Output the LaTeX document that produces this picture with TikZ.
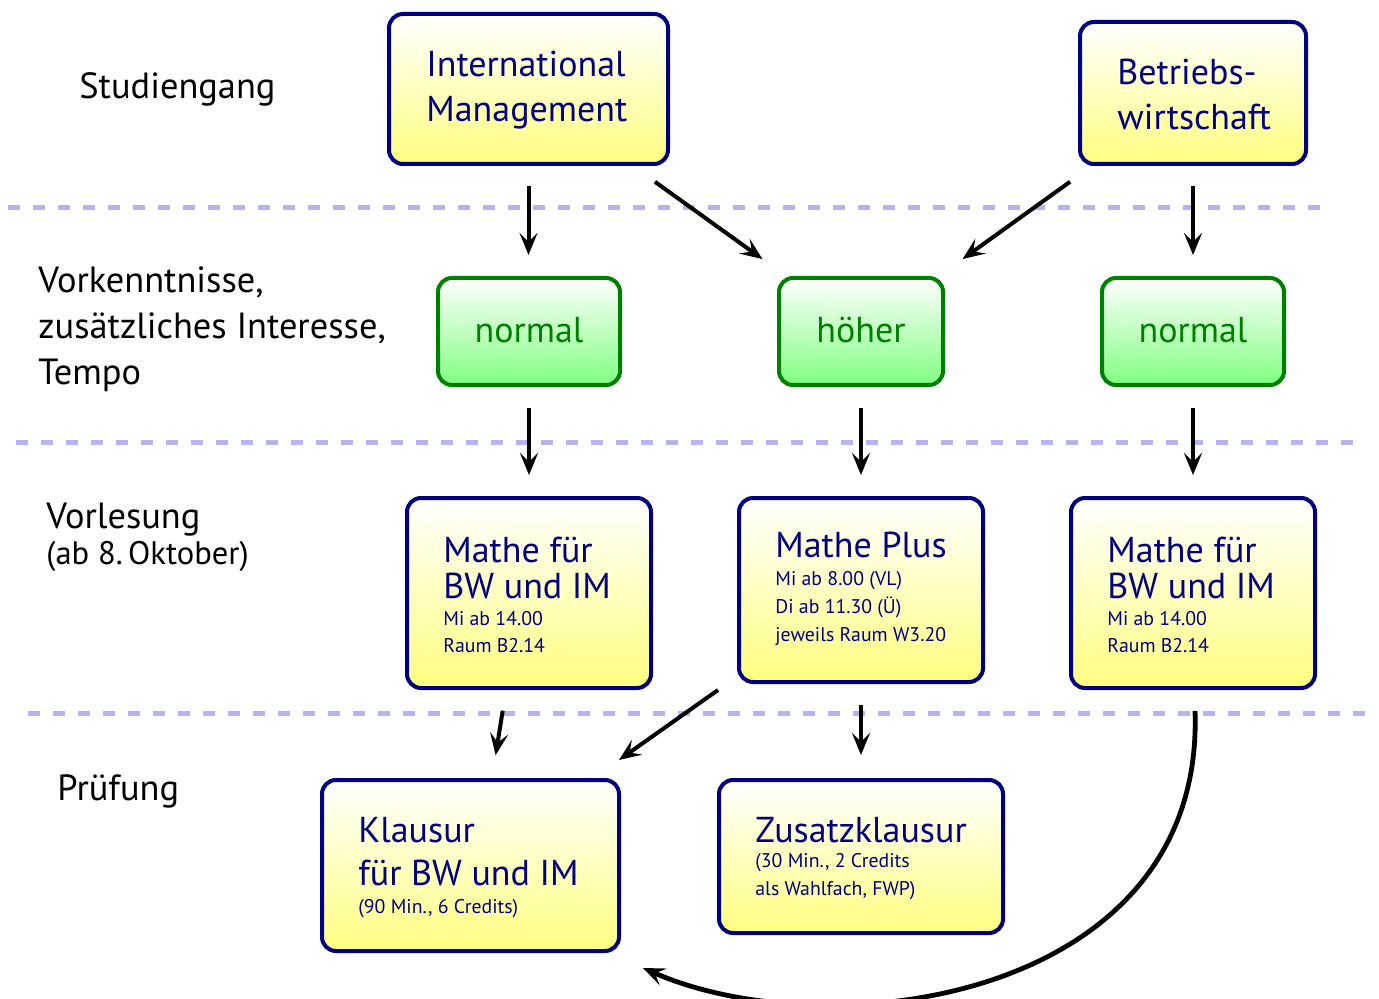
\documentclass[tikz,border=0pt]{standalone}
\usepackage{fontspec}
\setmainfont{PT Sans}
\usetikzlibrary{arrows.meta,calc}
\definecolor{navyb}{RGB}{0,0,128}
\definecolor{yel}{RGB}{255,255,128}
\definecolor{grb}{RGB}{0,128,0}
\definecolor{grf}{RGB}{128,255,128}
\definecolor{dashc}{RGB}{180,180,245}
\newcommand\smf{\fontsize{9.9pt}{11pt}\selectfont}
\tikzset{
  ybox/.style={rectangle, rounded corners=7pt, draw=navyb, line width=2pt,
    top color=white, bottom color=yel, inner sep=0pt},
  gbox/.style={rectangle, rounded corners=7pt, draw=grb, line width=2pt,
    top color=white, bottom color=grf, inner sep=0pt, text=grb,
    font=\fontsize{18pt}{22pt}\selectfont},
  btxt/.style={anchor=base west, inner sep=0pt, text=navyb},
  gtxt/.style={inner sep=0pt, anchor=base, text=grb, font=\fontsize{18pt}{22pt}\selectfont},
  lbl/.style={anchor=base west, inner sep=0pt, text=black, font=\fontsize{18.2pt}{23pt}\selectfont},
  sep/.style={draw=dashc, line width=2.5pt, dash pattern=on 6pt off 6.5pt},
  arr/.style={-{Stealth[length=11pt,width=9pt,inset=4.5pt]}, line width=2pt},
}
\begin{document}
\begin{tikzpicture}[x=0.5pt,y=-0.5pt]
\useasboundingbox (0,0) rectangle (1379,999);
% separators
\coordinate (s1a) at (8,208); \coordinate (s1b) at (1330,208);
\coordinate (s2a) at (16,442); \coordinate (s2b) at (1362,442);
\coordinate (s3a) at (28,713); \coordinate (s3b) at (1372,713);
\draw[sep] (s1a) -- (s1b);
\draw[sep] (s2a) -- (s2b);
\draw[sep] (s3a) -- (s3b);
% left labels
\node[lbl] (l1) at (79,99) {Studiengang};
\node[lbl] (l2) at (38,293) {\vtop{\baselineskip=23pt\hbox{Vorkenntnisse,}\hbox{zusätzliches Interesse,}\hbox{Tempo}}};
\node[lbl] (l3) at (46,528) {\vtop{\baselineskip=18pt\hbox{Vorlesung}\hbox{\fontsize{16.3pt}{18pt}\selectfont(ab 8.\,Oktober)}}};
\node[lbl] (l4) at (57,800) {Prüfung};
% boxes
\node[ybox, minimum width=139.5pt, minimum height=75pt] (im) at (528.5,89) {};
\node[ybox, minimum width=113pt, minimum height=71pt] (bw) at (1193,93) {};
\node[gbox, minimum width=91pt, minimum height=53.5pt] (n1) at (529,331.5) {};
\node[gbox, minimum width=82pt, minimum height=53.5pt] (ho) at (861,331.5) {};
\node[gbox, minimum width=91pt, minimum height=53.5pt] (n2) at (1193,331.5) {};
\node[ybox, minimum width=122pt, minimum height=95pt] (m1) at (529,593) {};
\node[ybox, minimum width=122pt, minimum height=92pt] (mp) at (861,590) {};
\node[ybox, minimum width=122pt, minimum height=95pt] (m2) at (1193,593) {};
\node[ybox, minimum width=148.5pt, minimum height=85.5pt] (kl) at (470.5,865.5) {};
\node[ybox, minimum width=142pt, minimum height=76.5pt] (zk) at (861,856.5) {};
% box texts
\node[btxt, font=\fontsize{18pt}{22pt}\selectfont] (imt) at (426,77) {\vtop{\baselineskip=22.5pt\hbox{International}\hbox{Management}}};
\node[btxt, font=\fontsize{18pt}{22pt}\selectfont] (bwt) at (1117,85) {\vtop{\baselineskip=22.5pt\hbox{Betriebs-}\hbox{wirtschaft}}};
\node[gtxt] (n1t) at (529,343) {normal};
\node[gtxt] (hot) at (861,343) {höher};
\node[gtxt] (n2t) at (1193,343) {normal};
\node[btxt, font=\fontsize{18pt}{18pt}\selectfont] (m1t) at (443,562) {\vtop{\baselineskip=18pt\hbox{Mathe für}\hbox{BW und IM}\baselineskip=13.5pt\hbox{\smf Mi ab 14.00}\hbox{\smf Raum B2.14}}};
\node[btxt, font=\fontsize{18pt}{18pt}\selectfont] (mpt) at (775,557) {\vtop{\baselineskip=15pt\hbox{Mathe Plus}\baselineskip=14pt\hbox{\smf Mi ab 8.00 (VL)}\hbox{\smf Di ab 11.30 (Ü)}\hbox{\smf jeweils Raum W3.20}}};
\node[btxt, font=\fontsize{18pt}{18pt}\selectfont] (m2t) at (1107,562) {\vtop{\baselineskip=18pt\hbox{Mathe für}\hbox{BW und IM}\baselineskip=13.5pt\hbox{\smf Mi ab 14.00}\hbox{\smf Raum B2.14}}};
\node[btxt, font=\fontsize{18pt}{18pt}\selectfont] (klt) at (358,842) {\vtop{\baselineskip=21.5pt\hbox{Klausur}\hbox{für BW und IM}\baselineskip=14pt\hbox{\smf (90 Min., 6 Credits)}}};
\node[btxt, font=\fontsize{18pt}{18pt}\selectfont] (zkt) at (755,842) {\vtop{\baselineskip=12.5pt\hbox{Zusatzklausur}\hbox{\smf (30 Min., 2 Credits}\baselineskip=14pt\hbox{\smf als Wahlfach, FWP)}}};
% arrows
\draw[arr, shorten <=10pt, shorten >=10.5pt] (im.south) -- (im.south |- n1.north);
\draw[arr, shorten <=13.5pt, shorten >=14.5pt] ([xshift=-18.5pt]im.south east) -- ([xshift=4.5pt]ho.north west);
\draw[arr, shorten <=13.5pt, shorten >=14.5pt] ([xshift=7pt]bw.south west) -- ([xshift=-3pt]ho.north east);
\draw[arr, shorten <=10pt, shorten >=10.5pt] (bw.south) -- (n2.north);
\draw[arr, shorten <=10.5pt, shorten >=10.5pt] (n1.south) -- (m1.north);
\draw[arr, shorten <=10.5pt, shorten >=10.5pt] (ho.south) -- (mp.north);
\draw[arr, shorten <=10.5pt, shorten >=10.5pt] (n2.south) -- (m2.north);
\draw[arr, shorten <=10.5pt, shorten >=11.5pt] ([xshift=-11.5pt]m1.south) -- ([xshift=10.75pt]kl.north);
\draw[arr, shorten <=5.2pt, shorten >=15.6pt] ([xshift=-5.25pt]mp.south west) -- ([xshift=-13.75pt]kl.north east);
\draw[arr, shorten <=10.5pt, shorten >=11.5pt] (mp.south) -- (zk.north);
\draw[arr, line width=2.4pt] ([shift={(1pt,-10.5pt)}]m2.south) .. controls (1205,1000) and (830,1050) .. ([shift={(11pt,-7.5pt)}]kl.south east);
\end{tikzpicture}
\end{document}
